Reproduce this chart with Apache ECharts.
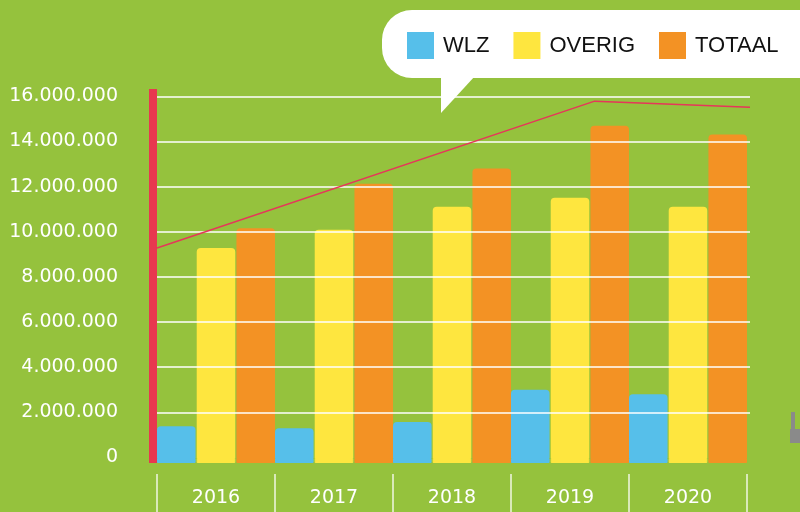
<!DOCTYPE html>
<html>
<head>
<meta charset="utf-8">
<script src="https://cdn.jsdelivr.net/npm/echarts@6/dist/echarts.min.js"></script>
<style>
  html, body { margin: 0; padding: 0; background: #95c23d; }
  #echart { width: 800px; height: 512px; }
</style>
</head>
<body>
<div id="echart"></div>
<script>
var years = ['2016', '2017', '2018', '2019', '2020'];
var wlz = [1410000, 1320000, 1590000, 3020000, 2830000];
var overig = [9300000, 10110000, 11130000, 11530000, 11130000];
var totaal = [10180000, 12150000, 12830000, 14720000, 14330000];
// trend line: position in years (band edges at .5) and value
var trendX = [2015.5, 2019.19, 2020.5];
var trendY = [9280000, 15790000, 15520000];

// the bars in the original hang a little below the zero line
var BAR_DROP = 221500;

function dots(v) {
    return String(v).replace(/\B(?=(\d{3})+(?!\d))/g, '.');
}

function barPair(name, stack, data, color) {
    var base = {
        name: name + '_base', type: 'bar', stack: stack, xAxisIndex: 1, yAxisIndex: 1,
        barGap: '3%', barCategoryGap: '0%',
        data: data.map(function () { return BAR_DROP; }),
        itemStyle: {color: color, borderColor: color, borderWidth: 1}
    };
    var top = {
        name: name, type: 'bar', stack: stack, xAxisIndex: 1, yAxisIndex: 1,
        barGap: '3%', barCategoryGap: '0%',
        data: data,
        itemStyle: {color: color, borderRadius: [4, 4, 0, 0]}
    };
    return [base, top];
}

var myChart = echarts.init(document.getElementById('echart'));
var option = {
    backgroundColor: '#95c23d',
    animation: false,
    graphic: [
        {type: 'rect', z: 0, shape: {x: 382, y: 10, width: 450, height: 68, r: 30}, style: {fill: '#fff'}},
        {type: 'polygon', z: 0, shape: {points: [[441, 76], [441, 113], [475, 76]]}, style: {fill: '#fff'}},
        {type: 'polygon', z: 0, shape: {points: [[791, 412], [795, 412], [795, 429], [800, 429], [800, 443], [790, 443], [790, 429], [791, 429]]}, style: {fill: '#8a8a8a'}}
    ],
    legend: {
        data: ['WLZ', 'OVERIG', 'TOTAAL'],
        left: 407,
        top: 32,
        z: 10,
        padding: 0,
        icon: 'rect',
        itemWidth: 27,
        itemHeight: 27,
        itemGap: 24,
        textStyle: {color: '#111', fontSize: 22, fontFamily: 'Liberation Sans', padding: [0, 0, 0, 4]}
    },
    grid: [
        {left: 157, right: 50, top: 96.4, bottom: 54.5},
        {left: 157, right: 53, top: 89, bottom: 49},
        {left: 157, right: 53, top: 400, bottom: 38}
    ],
    xAxis: [
        {type: 'value', gridIndex: 0, min: 2015.5, max: 2020.5, show: false},
        {type: 'category', gridIndex: 1, data: years, show: false},
        {
            type: 'category', gridIndex: 2, data: years,
            axisLine: {show: false},
            axisTick: {show: true, length: 38, lineStyle: {color: 'rgba(255,255,255,0.85)', width: 1.5}},
            axisLabel: {color: '#fff', fontSize: 19, fontFamily: 'DejaVu Sans', margin: 15}
        }
    ],
    yAxis: [
        {
            type: 'value', gridIndex: 0, min: 0, max: 16000000, interval: 2000000, z: 5,
            axisLine: {show: false},
            axisTick: {show: false},
            axisLabel: {color: '#fff', fontSize: 19, fontFamily: 'DejaVu Sans', margin: 39, formatter: dots},
            splitLine: {showMinLine: false, lineStyle: {color: '#fff', width: 1.5}}
        },
        {
            type: 'value', gridIndex: 1, min: 0, max: 16571000, offset: 4,
            axisLine: {show: true, lineStyle: {color: '#e8384f', width: 8, cap: 'butt'}},
            axisTick: {show: false},
            axisLabel: {show: false},
            splitLine: {show: false}
        },
        {type: 'value', gridIndex: 2, show: false}
    ],
    series: [].concat(
        barPair('WLZ', 'w', wlz, '#56bfea'),
        barPair('OVERIG', 'o', overig, '#fee63f'),
        barPair('TOTAAL', 't', totaal, '#f39224'),
        [{
            name: 'trend', type: 'line', xAxisIndex: 0, yAxisIndex: 0, z: 6, clip: false,
            data: trendX.map(function (x, i) { return [x, trendY[i]]; }),
            symbol: 'none', lineStyle: {color: '#e6365a', width: 1.5}
        }]
    )
};
myChart.setOption(option);
window.onresize = myChart.resize;
</script>
</body>
</html>
